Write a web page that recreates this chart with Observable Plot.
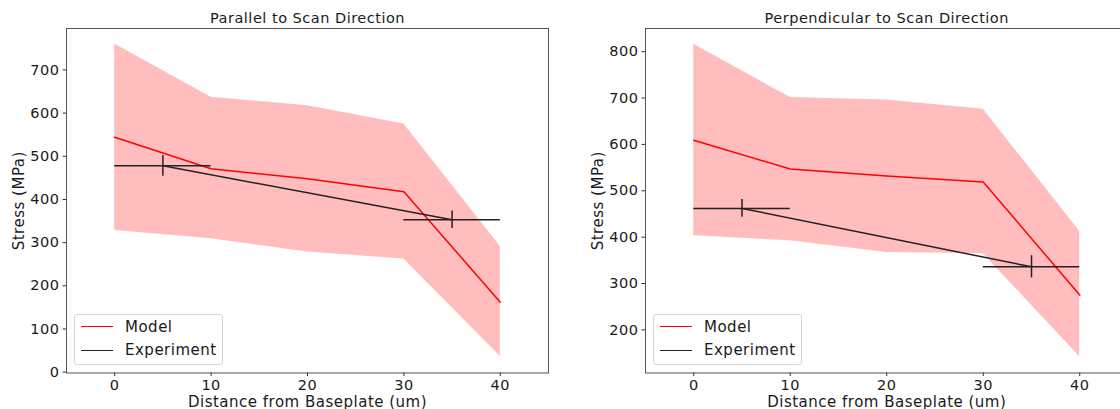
<!DOCTYPE html>
<html>
<head>
<meta charset="utf-8">
<script src="https://cdn.jsdelivr.net/npm/d3@7"></script>
<script src="https://cdn.jsdelivr.net/npm/@observablehq/plot@0.6"></script>
<style>
  html, body { margin: 0; padding: 0; background: #fff; }
  #wrap { position: relative; width: 1120px; height: 409px; overflow: hidden; font-family: "DejaVu Sans", sans-serif; }
  .panel { position: absolute; top: 0; }
  .panel g[aria-label$="tick label"] { font-size: 14.5px !important; letter-spacing: 0.5px; fill: #1a1a1a; }
  .legend { position: absolute; box-sizing: border-box; width: 149px; height: 51px; border: 1px solid #d5d5d5; border-radius: 3px; background: rgba(255,255,255,0.85); font-size: 15px; letter-spacing: 0.5px; color: #1a1a1a; }
  .legend .row { position: absolute; left: 0; height: 20px; display: flex; align-items: center; }
  .legend .sw { width: 32px; height: 0; margin-left: 6px; margin-right: 12px; }
</style>
</head>
<body>
<div id="wrap"></div>
<script>
// ---- data ----
const distance = [0, 10, 20, 30, 40];
const expDistance = [5, 35];
const expDistanceErr = [5, 5];

const parallelModel = [544, 471, 448, 418, 162];
const parallelUpper = [760, 637, 617, 575, 291];
const parallelLower = [328, 309, 278, 262, 36];
const parallelExp = [478, 353];
const parallelExpErr = [24, 20];
const parallelYTicks = [0, 100, 200, 300, 400, 500, 600, 700];

const perpModel = [609, 547, 532, 519, 275];
const perpUpper = [816, 701, 696, 676, 412];
const perpLower = [403, 392, 367, 364, 142];
const perpExp = [462, 336];
const perpExpErr = [19, 24];
const perpYTicks = [200, 300, 400, 500, 600, 700, 800];

const xTicks = [0, 10, 20, 30, 40];
const titles = ["Parallel to Scan Direction", "Perpendicular to Scan Direction"];
const xLabel = "Distance from Baseplate (um)";
const yLabel = "Stress (MPa)";
const legendLabels = ["Model", "Experiment"];

function panel({title, model, upper, lower, exp, expErr, yDomain, yTicks, xDomain, width, marginLeft, marginRight}) {
  const band = distance.map((d, i) => ({x: d, lo: lower[i], hi: upper[i], m: model[i]}));
  const ex = expDistance.map((d, i) => ({x: d, xe: expDistanceErr[i], y: exp[i], ye: expErr[i]}));
  return Plot.plot({
    width, height: 409,
    marginLeft, marginRight, marginTop: 28, marginBottom: 36.5,
    style: {fontFamily: "DejaVu Sans", fontSize: "14.5px", letterSpacing: "0.5px", color: "#1a1a1a", background: "transparent", overflow: "visible"},
    x: {domain: xDomain},
    y: {domain: yDomain},
    marks: [
      Plot.areaY(band, {x: "x", y1: "lo", y2: "hi", fill: "#ff0000", fillOpacity: 0.26}),
      Plot.line(band, {x: "x", y: "m", stroke: "#ff0000", strokeWidth: 1.5}),
      Plot.line(ex, {x: "x", y: "y", stroke: "#222", strokeWidth: 1.5}),
      Plot.ruleY(ex, {y: "y", x1: d => d.x - d.xe, x2: d => d.x + d.xe, stroke: "#222", strokeWidth: 1.5}),
      Plot.ruleX(ex, {x: "x", y1: d => d.y - d.ye, y2: d => d.y + d.ye, stroke: "#222", strokeWidth: 1.5}),
      Plot.frame({stroke: "#555", strokeWidth: 1}),
      Plot.axisX({ticks: xTicks, tickSize: 3.5, tickPadding: 3, label: null, stroke: "#333", fontSize: 14.5}),
      Plot.axisY({ticks: yTicks, tickSize: 3.5, tickPadding: 3.5, label: null, stroke: "#333", fontSize: 14.5}),
      Plot.text([title], {frameAnchor: "top", dy: -10.5, fontSize: 14.5, lineAnchor: "middle"}),
      Plot.text([xLabel], {frameAnchor: "bottom", dy: 29.5, fontSize: 15, lineAnchor: "middle"}),
      Plot.text([yLabel], {frameAnchor: "left", dx: -47.5, rotate: -90, fontSize: 15, textAnchor: "middle", lineAnchor: "middle"})
    ]
  });
}

function legend(left) {
  const div = document.createElement("div");
  div.className = "legend";
  div.style.left = left + "px";
  div.style.top = "313.5px";
  const colors = ["#ff0000", "#222"];
  legendLabels.forEach((lab, i) => {
    const row = document.createElement("div");
    row.className = "row";
    row.style.top = (i === 0 ? 2 : 25.5) + "px";
    const sw = document.createElement("span");
    sw.className = "sw";
    sw.style.borderTop = "1.5px solid " + colors[i];
    const t = document.createElement("span");
    t.textContent = lab;
    row.appendChild(sw); row.appendChild(t);
    div.appendChild(row);
  });
  return div;
}

const wrap = document.getElementById("wrap");

const p1 = panel({title: titles[0], model: parallelModel, upper: parallelUpper, lower: parallelLower,
  exp: parallelExp, expErr: parallelExpErr, yDomain: [-2, 796], yTicks: parallelYTicks,
  xDomain: [-5, 45], width: 560, marginLeft: 66, marginRight: 12});
p1.classList.add("panel"); p1.style.left = "0px";
wrap.appendChild(p1);

const p2 = panel({title: titles[1], model: perpModel, upper: perpUpper, lower: perpLower,
  exp: perpExp, expErr: perpExpErr, yDomain: [107, 850], yTicks: perpYTicks,
  xDomain: [-5, 45], width: 600, marginLeft: 85, marginRight: 32.5});
p2.classList.add("panel"); p2.style.left = "560px";
wrap.appendChild(p2);

wrap.appendChild(legend(74));
wrap.appendChild(legend(653));
</script>
</body>
</html>
